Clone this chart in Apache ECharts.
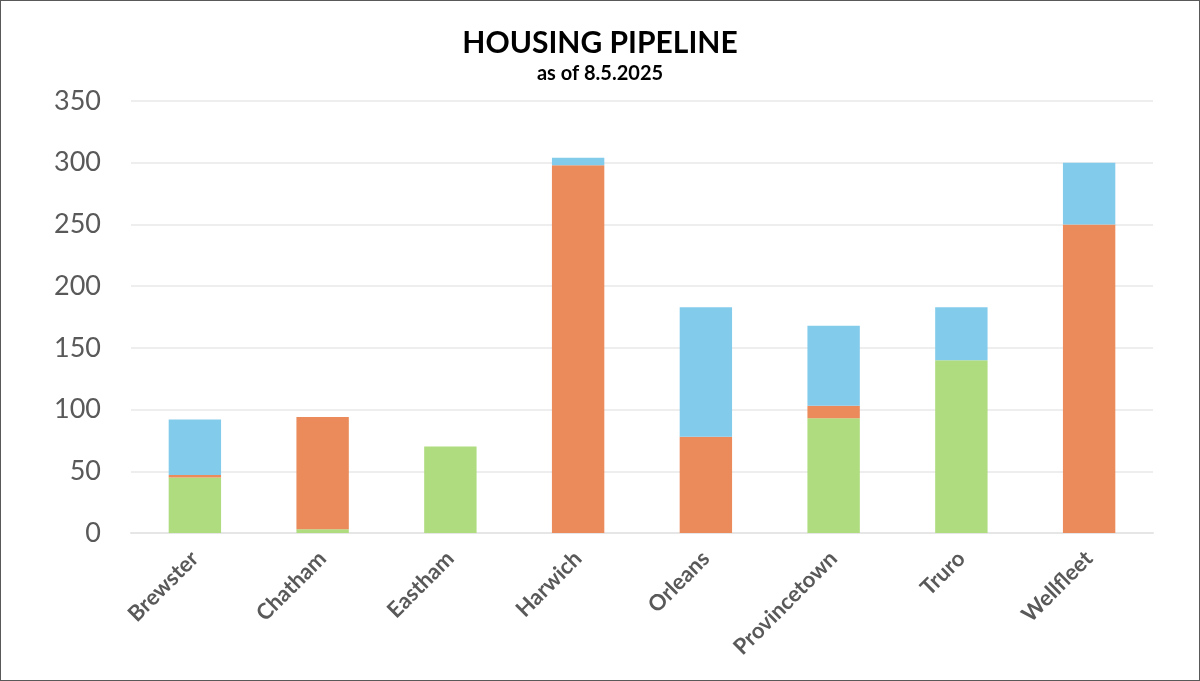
<!DOCTYPE html>
<html><head><meta charset="utf-8">
<script src="https://cdn.jsdelivr.net/npm/echarts@6/dist/echarts.min.js"></script>
<style>
html,body{margin:0;padding:0;background:#fff;}
#c{width:1198px;height:679px;border:1px solid #595959;}
</style></head>
<body><div id="c"></div>
<script>
const categories = ['Brewster','Chatham','Eastham','Harwich','Orleans','Provincetown','Truro','Wellfleet'];
const greenValues  = [45, 3, 70, 0, 0, 93, 140, 0];
const orangeValues = [2, 91, 0, 298, 78, 10, 0, 250];
const blueValues   = [45, 0, 0, 6, 105, 65, 43, 50];
const yTicks = [0,50,100,150,200,250,300,350];

const chart = echarts.init(document.getElementById('c'));
const mk = (name, data, color) => ({
  name, type:'bar', stack:'s', data, barWidth:'41%',
  itemStyle:{color}, emphasis:{disabled:true}
});
chart.setOption({
  animation:false,
  title:{
    text:'HOUSING PIPELINE', subtext:'as of 8.5.2025', left:'center', top:22, itemGap:6,
    textStyle:{fontFamily:'Lato', fontWeight:'bold', fontSize:30, color:'#000'},
    subtextStyle:{fontFamily:'Lato', fontWeight:'bold', fontSize:20, color:'#000'}
  },
  grid:{left:130, right:46, top:100, bottom:147},
  xAxis:{
    type:'category', data:categories,
    axisLine:{lineStyle:{color:'#e6e6e6', width:2}},
    axisTick:{show:false},
    axisLabel:{rotate:45, fontFamily:'Lato', fontWeight:'bold', fontSize:22, color:'#595959', margin:22, interval:0}
  },
  yAxis:{
    type:'value', min:yTicks[0], max:yTicks[yTicks.length-1], interval:50,
    axisLine:{show:false}, axisTick:{show:false},
    splitLine:{lineStyle:{color:'#e8e8e8', width:1.5}},
    axisLabel:{fontFamily:'Lato', fontSize:27, color:'#595959', margin:30}
  },
  series:[
    mk('Green', greenValues, '#AEDC7E'),
    mk('Orange', orangeValues, '#EB8A5A'),
    mk('Blue', blueValues, '#83CBEB')
  ]
});
</script></body></html>
